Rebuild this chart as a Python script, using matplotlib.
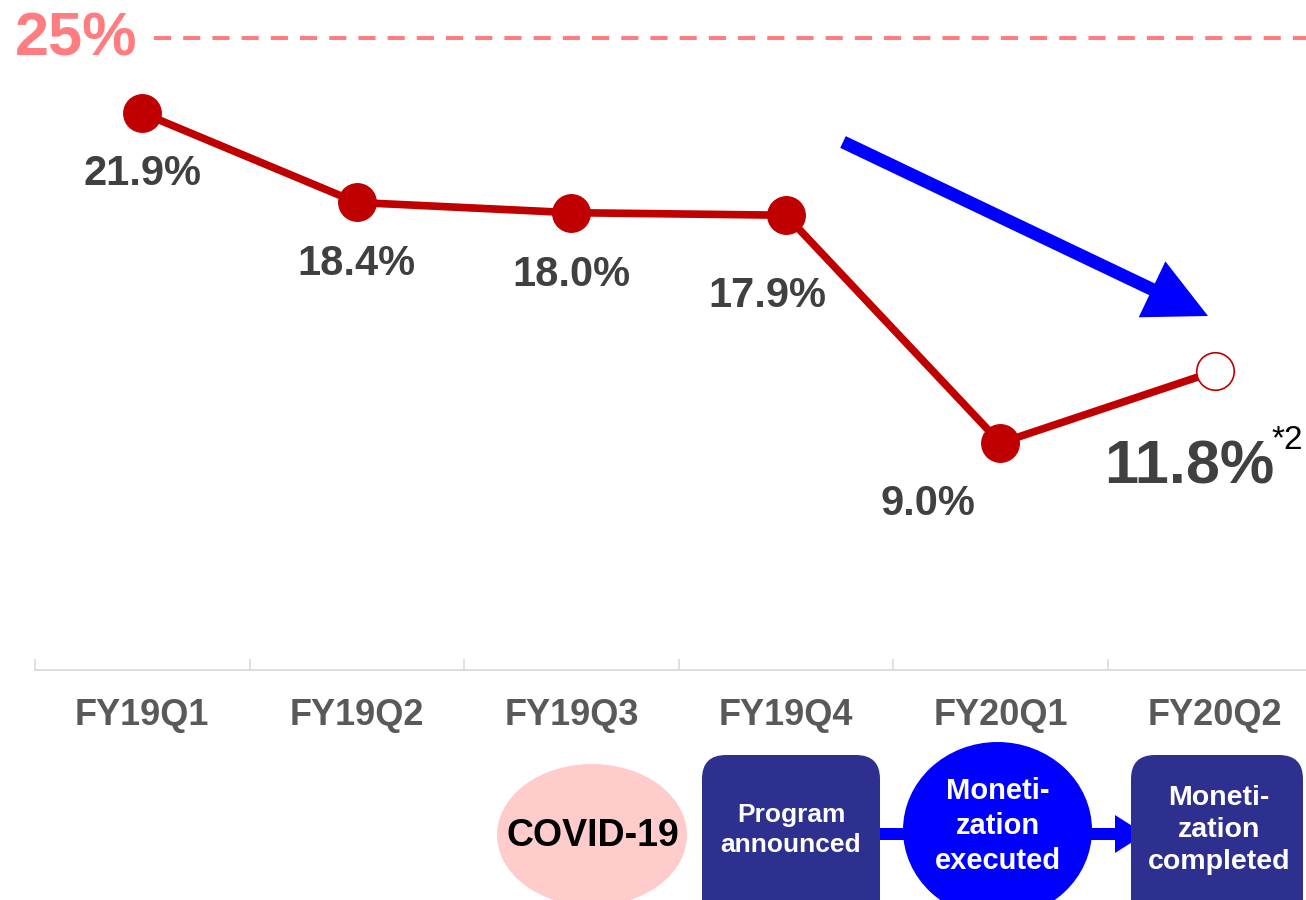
import matplotlib
matplotlib.use("Agg")
import matplotlib.pyplot as plt
from matplotlib import transforms
from matplotlib.patches import Ellipse, FancyBboxPatch, FancyArrow

# ---------------- data ----------------
quarters = ["FY19Q1", "FY19Q2", "FY19Q3", "FY19Q4", "FY20Q1", "FY20Q2"]
ratio = [21.9, 18.4, 18.0, 17.9, 9.0, 11.8]
target = 25
target_label = "25%"
footnote = "*2"
milestones = ["COVID-19", "Program\nannounced", "Moneti-\nzation\nexecuted", "Moneti-\nzation\ncompleted"]

# ---------------- style ----------------
W, H = 1306, 900
FONT = "Liberation Sans"
RED = "#C00000"
PINK_LINE = "#FF7C80"
LABEL = "#404040"
TICK = "#595959"
NAVY = "#2E3090"
BLUE = "#0000FF"

fig = plt.figure(figsize=(W / 100, H / 100), dpi=100)
fig.patch.set_facecolor("white")

# axes placed in pixel terms: left 35, right 1306, bottom 670, top 8
ax = fig.add_axes([35 / W, (H - 670) / H, (1306 - 35) / W, (670 - 8) / H])
x = list(range(len(quarters)))

for s in ["top", "right", "left"]:
    ax.spines[s].set_visible(False)
ax.spines["bottom"].set_color("#D9D9D9")
ax.spines["bottom"].set_linewidth(1.3)
ax.set_yticks([])

# boundaries ticks (major), labels at centers (minor)
ax.set_xticks([i - 0.5 for i in range(len(quarters) + 1)])
ax.set_xticklabels([])
ax.tick_params(axis="x", which="major", direction="in", length=8, width=1.1, color="#D9D9D9")
ax.set_xticks(x, minor=True)
ax.set_xticklabels(quarters, minor=True, fontfamily=FONT, fontweight="bold",
                   fontsize=26, color=TICK)
ax.tick_params(axis="x", which="minor", length=0, pad=20)

ax.set_xlim(-0.5, 5.424)
ax.set_ylim(0.125, 26)

# target dashed line
line_tf = ax.get_yaxis_transform() + transforms.ScaledTranslation(0, -0.045, fig.dpi_scale_trans)
ax.plot([0.0936, 1.0], [target, target], transform=line_tf,
        color=PINK_LINE, lw=2.9, dashes=(4.25, 3.0), solid_capstyle="butt",
        dash_capstyle="butt", clip_on=False)
fig.text(15 / W, 1 - 55 / H, target_label, ha="left", va="baseline",
         fontfamily=FONT, fontweight="bold", fontsize=44, color=PINK_LINE)

# main line
ax.plot(x, ratio, color=RED, lw=5.5, zorder=3, solid_capstyle="round")
ax.plot(x[:-1], ratio[:-1], "o", ms=27, color=RED, zorder=4)
ax.plot(x[-1:], ratio[-1:], "o", ms=27, mfc="white", mec=RED, mew=1.2, zorder=4)

# data labels (offsets in points, baseline aligned)
offsets = [(0, -52), (0, -52.5), (0, -52.5), (-13, -66), (-52, -52), (-18.4, -80.6)]
sizes = [30, 30, 30, 30, 30, 44]
for xi, v, off, fs in zip(x, ratio, offsets, sizes):
    ax.annotate(f"{v:.1f}%", (xi, v), xytext=off, textcoords="offset points",
                ha="center", va="baseline", fontfamily=FONT, fontweight="bold",
                fontsize=fs, color=LABEL, annotation_clip=False)
ax.annotate(footnote, (x[-1], ratio[-1]), xytext=(41, -56), textcoords="offset points",
            ha="left", va="baseline", fontfamily=FONT, fontsize=24, color="black",
            annotation_clip=False)

# ---------------- decorations in pixel coordinates (origin top-left) ----------------
T = transforms.Affine2D().scale(1 / W, -1 / H).translate(0, 1) + fig.transFigure

# big blue trend arrow
fig.patches.append(FancyArrow(843, 142, 365, 174, width=13, head_width=62, head_length=62,
                              length_includes_head=True, color=BLUE, lw=0, transform=T))

# connector arrow along the milestones
fig.patches.append(FancyArrow(875, 834, 270, 0, width=12, head_width=38, head_length=30,
                              length_includes_head=True, color=BLUE, lw=0, transform=T))

fig.patches.append(Ellipse((592, 835), 190, 142, facecolor="#FFCCCC", edgecolor="none", transform=T))
fig.patches.append(FancyBboxPatch((702, 755), 178, 170, boxstyle="round,pad=0,rounding_size=24",
                                  facecolor=NAVY, edgecolor="none", transform=T))
fig.patches.append(Ellipse((997.5, 830), 189, 176, facecolor=BLUE, edgecolor="none", transform=T))
fig.patches.append(FancyBboxPatch((1131, 755), 172, 170, boxstyle="round,pad=0,rounding_size=24",
                                  facecolor=NAVY, edgecolor="none", transform=T))

fig.text(593, 836, milestones[0], transform=T, ha="center", va="center",
         fontfamily=FONT, fontweight="bold", fontsize=27, color="black")
fig.text(791, 830, milestones[1], transform=T, ha="center", va="center", linespacing=1.3,
         fontfamily=FONT, fontweight="bold", fontsize=19, color="white")
fig.text(997.5, 826, milestones[2], transform=T, ha="center", va="center", linespacing=1.3,
         fontfamily=FONT, fontweight="bold", fontsize=21, color="white")
fig.text(1219, 830, milestones[3], transform=T, ha="center", va="center", linespacing=1.3,
         fontfamily=FONT, fontweight="bold", fontsize=20.5, color="white")

fig.savefig("out.png", dpi=100, facecolor="white")
